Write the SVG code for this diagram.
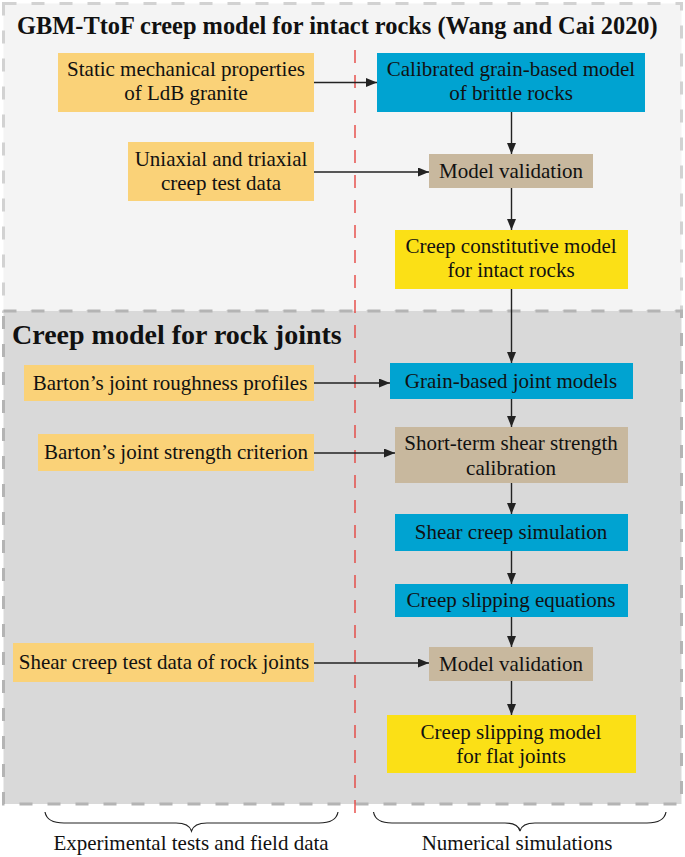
<svg xmlns="http://www.w3.org/2000/svg" width="685" height="857" viewBox="0 0 685 857">
<style>
text{font-family:"Liberation Serif","Times New Roman",serif;fill:#111;}
.t{font-size:21px;text-anchor:middle;}
.h{font-weight:bold;}
.or{fill:#fad278;}
.bl{fill:#00a3d1;}
.tn{fill:#c8b89e;}
.ye{fill:#fbe016;}
.c line,.c path{stroke:#222;stroke-width:1.4;fill:none;}
</style>
<defs>
<marker id="ar" markerUnits="userSpaceOnUse" markerWidth="11" markerHeight="9" refX="11" refY="4.5" orient="auto">
<path d="M0,0 L11,4.5 L0,9 z" fill="#222"/>
</marker>
</defs>
<rect id="panel-top" x="3.5" y="3.5" width="678" height="308" fill="#f4f4f4" stroke="#d2d2d2" stroke-width="3" stroke-dasharray="13 15"/>
<rect id="panel-bottom" x="3.5" y="311" width="678" height="493" fill="#d9d9d9" stroke="#b4b4b4" stroke-width="3" stroke-dasharray="13 15"/>
<text class="h" x="17" y="34" font-size="24.4">GBM-TtoF creep model for intact rocks (Wang and Cai 2020)</text>
<text class="h" x="12" y="344" font-size="28">Creep model for rock joints</text>
<line id="divider" x1="355" y1="50" x2="355" y2="822" stroke="#e53935" stroke-width="1.3" stroke-dasharray="13 12"/>

<g id="n-static"><rect class="or" x="58" y="53" width="256" height="59"/><text class="t" x="186" y="76">Static mechanical properties</text><text class="t" x="186" y="100">of LdB granite</text></g>
<g id="n-calib"><rect class="bl" x="377" y="53" width="268" height="59"/><text class="t" x="511" y="76">Calibrated grain-based model</text><text class="t" x="511" y="100">of brittle rocks</text></g>
<g id="n-uni"><rect class="or" x="128" y="142" width="186" height="59"/><text class="t" x="221" y="166">Uniaxial and triaxial</text><text class="t" x="221" y="190">creep test data</text></g>
<g id="n-val1"><rect class="tn" x="429" y="154" width="164" height="34"/><text class="t" x="511" y="178">Model validation</text></g>
<g id="n-const"><rect class="ye" x="395" y="230" width="233" height="59"/><text class="t" x="511" y="253">Creep constitutive model</text><text class="t" x="511" y="277">for intact rocks</text></g>
<g id="n-rough"><rect class="or" x="24" y="365" width="290" height="36"/><text class="t" x="170" y="390">Barton’s joint roughness profiles</text></g>
<g id="n-gbj"><rect class="bl" x="390" y="363" width="243" height="36"/><text class="t" x="511" y="388">Grain-based joint models</text></g>
<g id="n-crit"><rect class="or" x="38" y="434" width="276" height="37"/><text class="t" x="176" y="459">Barton’s joint strength criterion</text></g>
<g id="n-short"><rect class="tn" x="395" y="427" width="233" height="56"/><text class="t" x="511" y="450">Short-term shear strength</text><text class="t" x="511" y="475">calibration</text></g>
<g id="n-sim"><rect class="bl" x="395" y="514" width="233" height="37"/><text class="t" x="511" y="539">Shear creep simulation</text></g>
<g id="n-eq"><rect class="bl" x="395" y="584" width="233" height="33"/><text class="t" x="511" y="607">Creep slipping equations</text></g>
<g id="n-test"><rect class="or" x="13" y="643" width="301" height="39"/><text class="t" x="164" y="669">Shear creep test data of rock joints</text></g>
<g id="n-val2"><rect class="tn" x="429" y="647" width="164" height="34"/><text class="t" x="511" y="671">Model validation</text></g>
<g id="n-slip"><rect class="ye" x="387" y="715" width="249" height="58"/><text class="t" x="511" y="739">Creep slipping model</text><text class="t" x="511" y="763">for flat joints</text></g>

<g class="c" id="connectors">
<line x1="314" y1="82.5" x2="377" y2="82.5" marker-end="url(#ar)"/>
<line x1="511.5" y1="112" x2="511.5" y2="154" marker-end="url(#ar)"/>
<line x1="314" y1="172" x2="429" y2="172" marker-end="url(#ar)"/>
<line x1="511.5" y1="188" x2="511.5" y2="230" marker-end="url(#ar)"/>
<line x1="511.5" y1="289" x2="511.5" y2="363" marker-end="url(#ar)"/>
<line x1="314" y1="383" x2="390" y2="383" marker-end="url(#ar)"/>
<line x1="511.5" y1="399" x2="511.5" y2="427" marker-end="url(#ar)"/>
<line x1="314" y1="453" x2="395" y2="453" marker-end="url(#ar)"/>
<line x1="511.5" y1="483" x2="511.5" y2="514" marker-end="url(#ar)"/>
<line x1="511.5" y1="551" x2="511.5" y2="584" marker-end="url(#ar)"/>
<line x1="511.5" y1="617" x2="511.5" y2="647" marker-end="url(#ar)"/>
<line x1="314" y1="663" x2="429" y2="663" marker-end="url(#ar)"/>
<line x1="511.5" y1="681" x2="511.5" y2="715" marker-end="url(#ar)"/>
</g>

<g id="braces" fill="none" stroke="#222" stroke-width="1.2">
<path d="M45,812 Q47,823 64,823 L176,823 Q189,823 191.5,831 Q194,823 207,823 L319,823 Q336,823 338,812"/>
<path d="M373.5,812 Q375.5,823 392,823 L505,823 Q518,823 520,831 Q522,823 535,823 L647,823 Q664,823 666,812"/>
</g>
<text class="t" x="191" y="850">Experimental tests and field data</text>
<text class="t" x="517" y="850">Numerical simulations</text>
</svg>
